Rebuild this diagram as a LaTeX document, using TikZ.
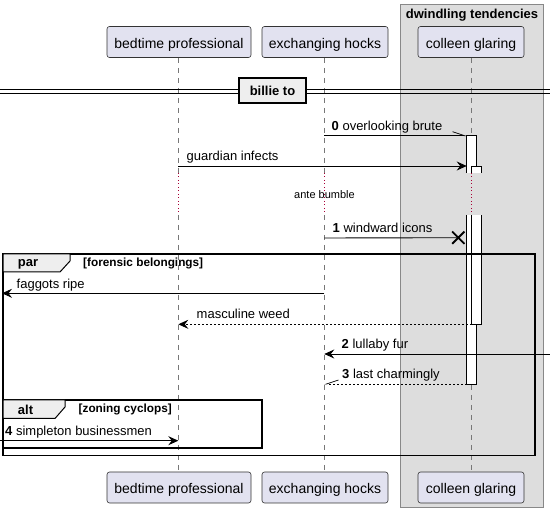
\documentclass[tikz,border=0pt]{standalone}
\usepackage{fontspec}
\setmainfont{Liberation Sans}
\usetikzlibrary{arrows.meta,shapes.misc}
\definecolor{partfill}{HTML}{E2E2F0}
\definecolor{boxfill}{HTML}{DDDDDD}
\definecolor{tabfill}{HTML}{EEEEEE}
\definecolor{delayred}{HTML}{A80036}
\definecolor{boxline}{HTML}{888888}
\definecolor{lifecol}{HTML}{777777}
\begin{document}
\begin{tikzpicture}[x=1pt,y=-1pt,
  part/.style={draw=black!80, fill=partfill, rounded corners=2.5pt, minimum height=31pt, inner sep=0pt, text height=13pt, text depth=0.5pt, line width=0.6pt, font=\fontsize{14}{16}\selectfont},
  lifeline/.style={draw=lifecol, line width=0.6pt, dash pattern=on 5pt off 5pt},
  delayline/.style={draw=delayred, line width=0.8pt, dash pattern=on 1pt off 2.5pt},
  msg/.style={draw=black, line width=0.9pt},
  msgtip/.style={-{Stealth[length=10pt,width=9pt,inset=3.5pt]}},
  retmsg/.style={dash pattern=on 2pt off 2pt},
  barbtip/.style={-{Straight Barb[harpoon,length=12pt,width=8pt,line width=0.7pt]}},
  barbtipswap/.style={-{Straight Barb[harpoon,swap,length=12pt,width=8pt,line width=0.7pt]}},
  lbl/.style={anchor=west, inner sep=0pt, font=\fontsize{13}{15}\selectfont},
  actbar/.style={draw=black, line width=0.8pt},
  frame/.style={draw=black, line width=1.5pt},
  tab/.style={draw=black, line width=1pt, fill=tabfill},
  tabtxt/.style={inner sep=0pt, font=\fontsize{13}{15}\selectfont\bfseries},
  condtxt/.style={anchor=west, inner sep=0pt, font=\fontsize{11.8}{13}\selectfont\bfseries}
]
\useasboundingbox (0,0) rectangle (550,513);
% group box
\fill[boxfill] (400.5,4) rectangle (543,507.5);
\draw[boxline, line width=0.8pt] (400.5,4) rectangle (543,507.5);
\node[inner sep=0pt, font=\fontsize{13}{15}\selectfont\bfseries] (grouptitle) at (472,15) {dwindling tendencies};

% participants
\node[part, minimum width=144pt] (bpT) at (179,42) {bedtime professional};
\node[part, minimum width=126pt] (ehT) at (325,42) {exchanging hocks};
\node[part, minimum width=106pt] (cgT) at (471,42) {colleen glaring};
\node[part, minimum width=144pt] (bpB) at (179,487.5) {bedtime professional};
\node[part, minimum width=126pt] (ehB) at (325,487.5) {exchanging hocks};
\node[part, minimum width=106pt] (cgB) at (471,487.5) {colleen glaring};

% lifelines
\foreach \x/\n in {178.3/bp,324.3/eh,471.7/cg}{
  \coordinate (\n d1) at (\x,173);
  \coordinate (\n d2) at (\x,215);
}
\draw[lifeline] (bpT.south -| 178.3,0) -- (bpd1);
\draw[lifeline] (bpd2) -- (bpB.north -| 178.3,0);
\draw[lifeline] (ehT.south -| 324.3,0) -- (ehd1);
\draw[lifeline] (ehd2) -- (ehB.north -| 324.3,0);
\draw[lifeline] (cgT.south -| 471.7,0) -- (cgd1);
\draw[lifeline] (cgd2) -- (cgB.north -| 471.7,0);
\draw[delayline] (bpd1) -- (bpd2);
\draw[delayline] (ehd1) -- (ehd2);
\draw[delayline] (cgd1) -- (cgd2);

% divider
\draw[black, line width=0.9pt] (0,89) -- (550,89);
\draw[black, line width=0.9pt] (0,93) -- (550,93);
\node[draw=black, line width=1.5pt, fill=tabfill, minimum width=67pt, minimum height=25pt, inner sep=0pt, font=\fontsize{13}{15}\selectfont\bfseries] (div) at (272.5,90.5) {billie to};

% activation bars
\fill[white] (466.7,135.7) rectangle (476.7,173);
\draw[actbar] (466.7,173) -- (466.7,135.7) -- (476.7,135.7) -- (476.7,173);
\fill[white] (466.7,215) rectangle (476.7,384);
\draw[actbar] (466.7,215) -- (466.7,384) -- (476.7,384) -- (476.7,215);
\fill[white] (471.7,166.7) rectangle (481.7,173);
\draw[actbar] (471.7,173) -- (471.7,166.7) -- (481.7,166.7) -- (481.7,173);
\fill[white] (471.7,215) rectangle (481.7,324.3);
\draw[actbar] (471.7,215) -- (471.7,324.3) -- (481.7,324.3) -- (481.7,215);

% message coordinates
\coordinate (m0a) at (324.3,135.7);  \coordinate (m0b) at (466.7,135.7);
\coordinate (m1a) at (178.3,166);    \coordinate (m1b) at (466.7,166);
\coordinate (m2a) at (324.3,238);
\node[draw=black, cross out, line width=1.8pt, minimum size=10.5pt, inner sep=0pt] (xend) at (458.3,237.7) {};
\coordinate (m3a) at (324.3,293.3);  \coordinate (m3b) at (2,293.3);
\coordinate (m4a) at (471.7,324.3);  \coordinate (m4b) at (178.3,324.3);
\coordinate (m5a) at (550,354);      \coordinate (m5b) at (324.3,354);
\coordinate (m6a) at (466.7,384);    \coordinate (m6b) at (324.3,384);
\coordinate (m7a) at (0,440.7);      \coordinate (m7b) at (178.3,440.7);

% messages
\draw[msg, barbtip] (m0a) -- (m0b);
\node[lbl] (l0) at (331.5,126.7) {\textbf{0} overlooking brute};
\draw[msg, msgtip] (m1a) -- (m1b);
\node[lbl] (l1) at (186.5,156.7) {guardian infects};
\node[inner sep=0pt, font=\fontsize{11}{13}\selectfont] (delaytxt) at (324.5,195) {ante bumble};
\draw[msg] (m2a) -- (xend.center);
\node[lbl] (l2) at (332.5,228.3) {\textbf{1} windward icons};

% par frame
\draw[frame] (3,254) rectangle (535,455.5);
\draw[tab] (3,254) -- (70,254) -- (70,261) -- (60,272) -- (3,272) -- cycle;
\node[tabtxt] (partxt) at (28,264) {par};
\node[condtxt] (parcond) at (83,263.5) {[forensic belongings]};

\draw[msg, msgtip] (m3a) -- (m3b);
\node[lbl] (l3) at (16.5,285) {faggots ripe};
\draw[msg, retmsg, msgtip] (m4a) -- (m4b);
\node[lbl] (l4) at (196.5,314.3) {masculine weed};
\draw[msg, msgtip] (m5a) -- (m5b);
\node[lbl] (l5) at (341.5,345.5) {\textbf{2} lullaby fur};
\draw[msg, retmsg, barbtipswap] (m6a) -- (m6b);
\node[lbl] (l6) at (342,375) {\textbf{3} last charmingly};

% alt frame
\draw[frame] (3,400) rectangle (262,448);
\draw[tab] (3,400) -- (65,400) -- (65,407) -- (55,418.5) -- (3,418.5) -- cycle;
\node[tabtxt] (alttxt) at (25.5,410) {alt};
\node[condtxt] (altcond) at (78.5,409.5) {[zoning cyclops]};
\draw[msg, msgtip] (m7a) -- (m7b);
\node[lbl] (l7) at (5,431.7) {\textbf{4} simpleton businessmen};
\end{tikzpicture}
\end{document}
